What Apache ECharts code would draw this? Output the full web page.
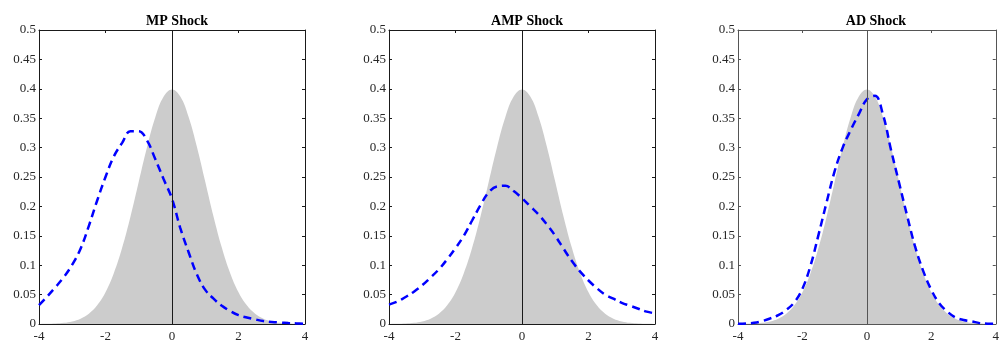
<!DOCTYPE html>
<html>
<head>
<meta charset="utf-8">
<script src="https://cdn.jsdelivr.net/npm/echarts@6/dist/echarts.min.js"></script>
<style>
html,body{margin:0;padding:0;background:#fff;}
#chart{width:1002px;height:343px;}
</style>
</head>
<body>
<div id="chart"></div>
<script>
// ---- data ----
const titles = ["MP Shock", "AMP Shock", "AD Shock"];
const xs = [-4,-3.75,-3.5,-3.25,-3,-2.75,-2.5,-2.25,-2,-1.75,-1.5,-1.25,-1,-0.75,-0.5,-0.25,0,
            0.25,0.5,0.75,1,1.25,1.5,1.75,2,2.25,2.5,2.75,3,3.25,3.5,3.75,4];
// gray shaded density
const prior = [0.0001,0.0004,0.0009,0.002,0.0044,0.0091,0.0175,0.0317,0.054,0.0863,0.1295,0.1826,0.242,0.3011,0.3521,0.3867,0.3989,
               0.3867,0.3521,0.3011,0.242,0.1826,0.1295,0.0863,0.054,0.0317,0.0175,0.0091,0.0044,0.002,0.0009,0.0004,0.0001];
// blue dashed densities
const mp  = [0.032,0.047,0.063,0.080,0.101,0.128,0.167,0.210,0.250,0.285,0.308,0.328,0.328,0.312,0.280,0.246,0.213,
             0.163,0.122,0.084,0.058,0.043,0.031,0.022,0.015,0.011,0.0078,0.005,0.0035,0.0024,0.0016,0.001,0.0005];
const amp = [0.033,0.038,0.046,0.055,0.066,0.079,0.093,0.110,0.129,0.150,0.176,0.202,0.224,0.234,0.235,0.226,0.214,
             0.200,0.186,0.169,0.150,0.128,0.107,0.089,0.074,0.061,0.050,0.043,0.036,0.031,0.026,0.021,0.018];
const ad  = [0.0003,0.0008,0.002,0.005,0.0095,0.015,0.024,0.037,0.060,0.099,0.152,0.207,0.260,0.300,0.330,0.357,0.382,
             0.388,0.356,0.296,0.240,0.184,0.131,0.090,0.058,0.035,0.021,0.011,0.0068,0.0045,0.0015,0.0005,0.0002];
const posteriors = [mp, amp, ad];
const xTickStep = 2;
const yTickStep = 0.05;

// ---- layout ----
const lefts = [39, 389, 738];
const W = 266, TOP = 30, H = 296;
const axisColors = ["#1a1a1a", "#1a1a1a", "#555555"];
const font = "'Liberation Serif', 'Times New Roman', serif";

const grid = [], xAxis = [], yAxis = [], series = [], title = [];
lefts.forEach((l, i) => {
  const c = axisColors[i];
  grid.push({left: l, top: TOP, width: W, height: H, containLabel: false});
  title.push({text: titles[i], left: l + W / 2, textAlign: 'center', top: 9,
    textStyle: {fontFamily: font, fontSize: 14, fontWeight: 'bold', color: '#000'}});
  const common = {type: 'value', gridIndex: i, min: -4, max: 4, interval: xTickStep,
    axisLine: {show: true, onZero: false, lineStyle: {color: c, width: 1}},
    axisTick: {show: true, inside: true, length: 3, lineStyle: {color: c}},
    splitLine: {show: false}};
  xAxis.push(Object.assign({}, common, {position: 'bottom',
    axisLabel: {show: true, fontFamily: font, fontSize: 13, color: '#262626', margin: 6}}));
  xAxis.push(Object.assign({}, common, {position: 'top', axisLabel: {show: false}}));
  const ycommon = {type: 'value', gridIndex: i, min: 0, max: 0.5, interval: yTickStep,
    axisLine: {show: true, onZero: false, lineStyle: {color: c, width: 1}},
    axisTick: {show: true, inside: true, length: 3, lineStyle: {color: c}},
    splitLine: {show: false}};
  yAxis.push(Object.assign({}, ycommon, {position: 'left',
    axisLabel: {show: true, fontFamily: font, fontSize: 13, color: '#262626', margin: 3}}));
  yAxis.push(Object.assign({}, ycommon, {position: 'right', axisLabel: {show: false}}));

  series.push({type: 'line', xAxisIndex: 2 * i, yAxisIndex: 2 * i, smooth: 0.4,
    symbol: 'none', silent: true, z: 1,
    data: xs.map((x, k) => [x, prior[k]]),
    lineStyle: {width: 0, color: '#cccccc'}, itemStyle: {color: '#cccccc'},
    areaStyle: {color: '#cccccc', opacity: 1},
    markLine: {silent: true, symbol: 'none', label: {show: false},
      lineStyle: {color: c, width: 1, type: 'solid'}, data: [{xAxis: 0}]}});
  series.push({type: 'line', xAxisIndex: 2 * i, yAxisIndex: 2 * i, smooth: 0.4,
    symbol: 'none', silent: true, z: 3,
    data: xs.map((x, k) => [x, posteriors[i][k]]),
    lineStyle: {width: 2.5, color: '#0000ff', type: [8, 5]}});
});

const chart = echarts.init(document.getElementById('chart'), null, {renderer: 'canvas'});
chart.setOption({animation: false, backgroundColor: '#fff', title, grid, xAxis, yAxis, series});
</script>
</body>
</html>
